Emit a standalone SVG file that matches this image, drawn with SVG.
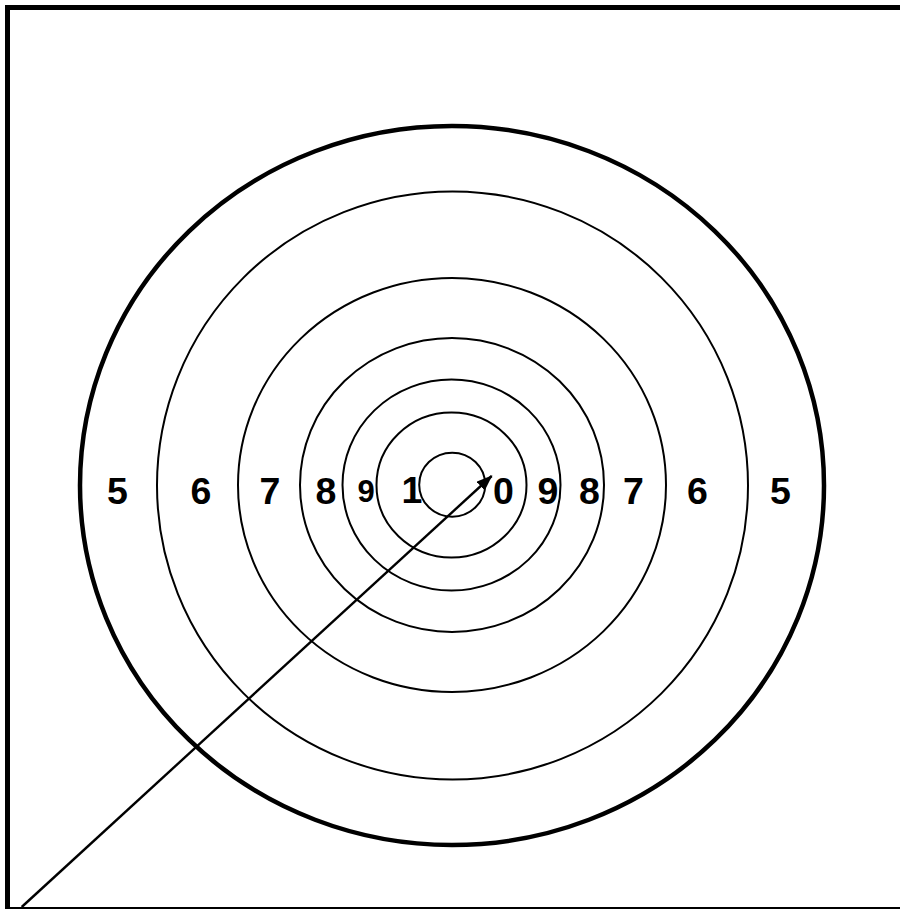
<svg xmlns="http://www.w3.org/2000/svg" width="900" height="909" viewBox="0 0 900 909">
  <style>
    .ring { fill: none; stroke: #000; stroke-width: 2; }
    .outer { fill: none; stroke: #000; stroke-width: 4.5; }
    .lbl { font-family: "Liberation Sans", Arial, sans-serif; font-weight: bold; font-size: 37.5px; text-anchor: middle; fill: #000; }
    .small { font-size: 31px; }
  </style>
  <defs>
    <marker id="arrow" markerWidth="16" markerHeight="12" refX="15" refY="6" orient="auto" markerUnits="userSpaceOnUse">
      <path d="M0,0 L16,6 L0,12 Z" fill="#000"/>
    </marker>
  </defs>
  <rect x="0" y="0" width="900" height="909" fill="#fff"/>
  <g id="frame">
    <rect x="7.5" y="7.5" width="900" height="902" fill="none" stroke="#000" stroke-width="5"/>
  </g>
  <g id="target">
    <ellipse id="ring-5" class="outer" cx="452" cy="485.5" rx="372" ry="359.5"/>
    <ellipse id="ring-6" class="ring" cx="452.5" cy="485.5" rx="295.5" ry="294"/>
    <ellipse id="ring-7" class="ring" cx="452" cy="485" rx="214" ry="207"/>
    <ellipse id="ring-8" class="ring" cx="452" cy="485" rx="152" ry="147"/>
    <ellipse id="ring-9" class="ring" cx="451.5" cy="485" rx="109" ry="105.5"/>
    <ellipse id="ring-10" class="ring" cx="451.5" cy="485" rx="75" ry="72.5"/>
    <ellipse id="bull" class="ring" cx="452.2" cy="484.7" rx="33" ry="32"/>
  </g>
  <g id="labels">
    <text class="lbl" x="117.5" y="504">5</text>
    <text class="lbl" x="201" y="504">6</text>
    <text class="lbl" x="270" y="504">7</text>
    <text class="lbl" x="326" y="504">8</text>
    <text class="lbl small" x="366" y="502">9</text>
    <text class="lbl" x="412" y="503">1</text>
    <text class="lbl" x="503.5" y="503.5">0</text>
    <text class="lbl" x="548" y="503.5">9</text>
    <text class="lbl" x="589.5" y="504">8</text>
    <text class="lbl" x="633.5" y="504">7</text>
    <text class="lbl" x="697.5" y="504">6</text>
    <text class="lbl" x="780.5" y="504">5</text>
  </g>
  <g id="connectors">
    <line x1="21.7" y1="907" x2="491.7" y2="476" stroke="#000" stroke-width="2.4" marker-end="url(#arrow)"/>
  </g>
</svg>
